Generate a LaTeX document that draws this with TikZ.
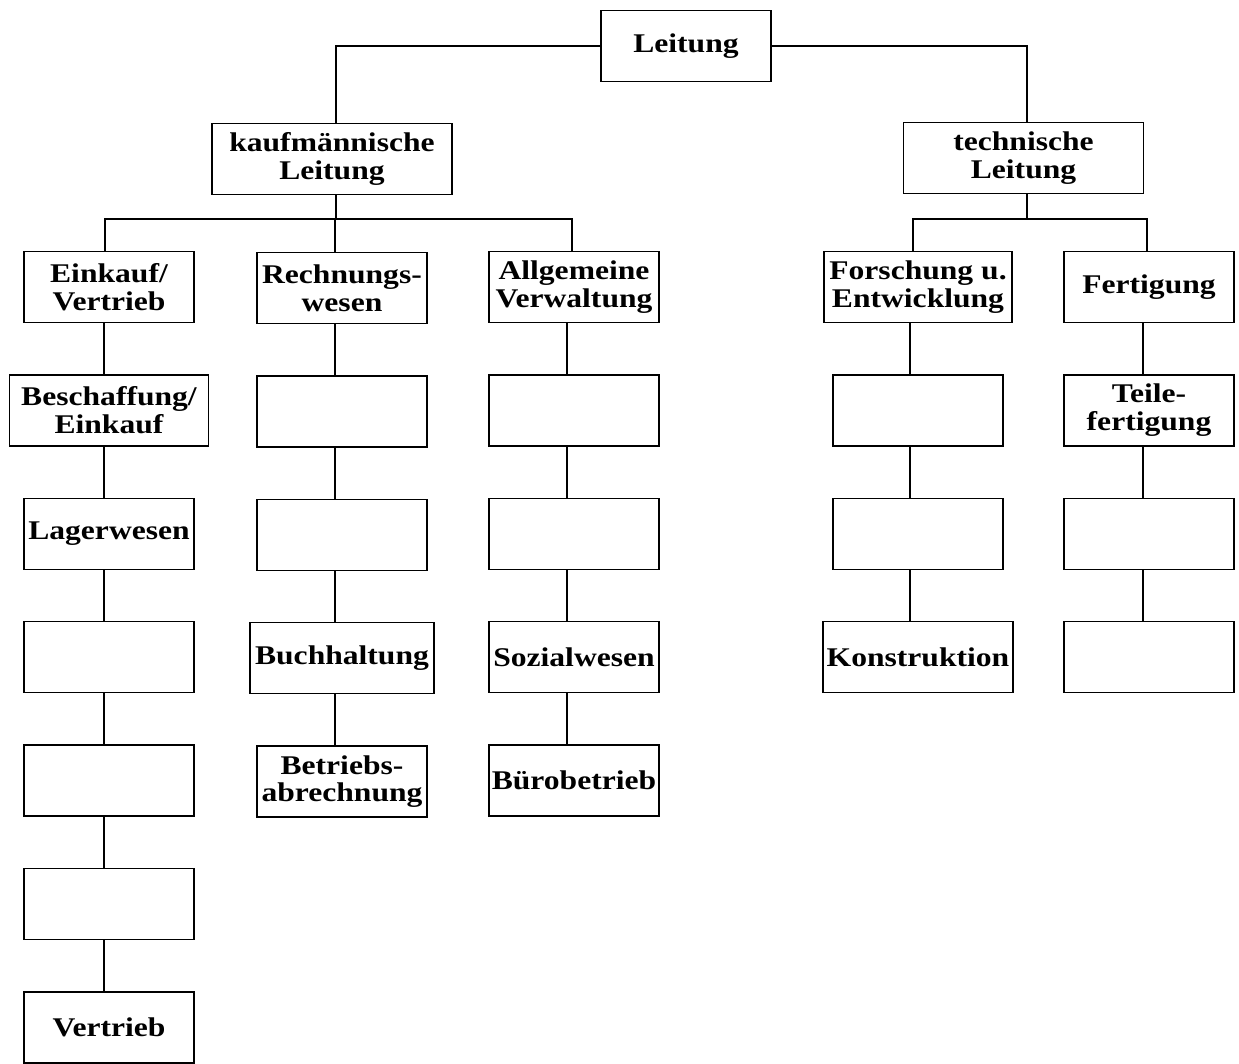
\documentclass[tikz,border=0pt]{standalone}
\usepackage{fontspec}
\setmainfont{Liberation Serif}[FakeStretch=1.17]
\usetikzlibrary{positioning}
\begin{document}
\begin{tikzpicture}[x=1pt, y=-1pt, node distance={50.9pt},
    main/.style = {draw, line width=1.5pt, minimum width=170pt, minimum height=71pt, inner sep=0pt, align=center, font=\bfseries\fontsize{27}{28}\selectfont},
    wide/.style = {main, minimum width=240pt},
    line/.style = {line width=1.5pt}]
    \useasboundingbox (0,0) rectangle (1239,1063);
    \node[main] (lt) at (686,46) {Leitung};
    \node[wide] (kl) at (332,159) {kaufmännische\\Leitung};
    \node[wide] (tl) at (1023.5,158) {technische\\Leitung};
    \node[main] (ev) at (109,287) {Einkauf/\\Vertrieb};
    \node[main] (rw) at (342,288) {Rechnungs-\\wesen};
    \node[main] (av) at (574,287) {Allgemeine\\Verwaltung};
    \node[main, minimum width=188pt] (fe) at (918,287) {Forschung u.\\Entwicklung};
    \node[main] (fg) at (1149,287) {Fertigung};
    \node[main, minimum width=199pt] (ev1)[below=of ev] {Beschaffung/\\Einkauf};
    \node[main] (ev2)[below=of ev1] {Lagerwesen};
    \node[main] (ev3)[below=of ev2] {};
    \node[main] (ev4)[below=of ev3] {};
    \node[main] (ev5)[below=of ev4] {};
    \node[main] (ev6)[below=of ev5] {Vertrieb};
    \node[main] (rw1)[below=of rw] {};
    \node[main] (rw2)[below=of rw1] {};
    \node[main, minimum width=184pt] (rw3)[below=of rw2] {Buchhaltung};
    \node[main] (rw4)[below=of rw3] {Betriebs-\\abrechnung};
    \node[main] (av1)[below=of av] {};
    \node[main] (av2)[below=of av1] {};
    \node[main] (av3)[below=of av2] {Sozialwesen};
    \node[main] (av4)[below=of av3] {Bürobetrieb};
    \node[main] (fe1)[below=of fe] {};
    \node[main] (fe2)[below=of fe1] {};
    \node[main, minimum width=190pt] (fe3)[below=of fe2] {Konstruktion};
    \node[main] (fg1)[below=of fg] {Teile-\\fertigung};
    \node[main] (fg2)[below=of fg1] {};
    \node[main] (fg3)[below=of fg2] {};
    \coordinate (k) at (336,219);
    \coordinate (t) at (1027,219);
    \coordinate (c1) at (104,0);
    \coordinate (c2) at (335,0);
    \coordinate (c3) at (567,0);
    \coordinate (c4) at (910,0);
    \coordinate (c5) at (1143,0);
    \draw[line] (lt.west) -| (kl.north -| k);
    \draw[line] (lt.east) -| (tl.north -| t);
    \draw[line] (kl.south -| k) -- (k);
    \draw[line] (tl.south -| t) -- (t);
    \draw[line] (k) -| ([xshift=-4pt]ev.north);
    \draw[line] (k) -| (rw.north -| c2);
    \draw[line] (k) -| ([xshift=-2pt]av.north);
    \draw[line] (t) -| ([xshift=-5pt]fe.north);
    \draw[line] (t) -| ([xshift=-2pt]fg.north);
    \foreach \a/\b/\c in {ev/ev1/c1, ev1/ev2/c1, ev2/ev3/c1, ev3/ev4/c1, ev4/ev5/c1, ev5/ev6/c1,
        rw/rw1/c2, rw1/rw2/c2, rw2/rw3/c2, rw3/rw4/c2,
        av/av1/c3, av1/av2/c3, av2/av3/c3, av3/av4/c3,
        fe/fe1/c4, fe1/fe2/c4, fe2/fe3/c4,
        fg/fg1/c5, fg1/fg2/c5, fg2/fg3/c5}
        \draw[line] (\a.south -| \c) -- (\b.north -| \c);
\end{tikzpicture}
\end{document}
